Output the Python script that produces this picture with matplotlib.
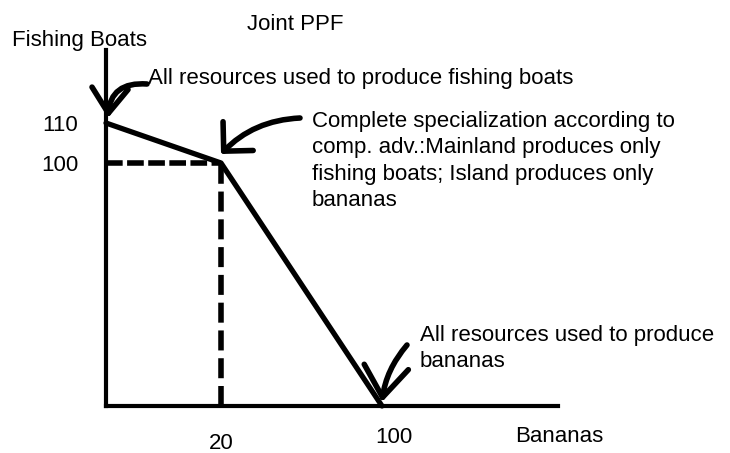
import numpy as np
import matplotlib
matplotlib.use('Agg')
import matplotlib.pyplot as plt
from matplotlib.transforms import offset_copy, ScaledTranslation

# ---- data (schematic joint PPF) ----
bananas = [0, 20, 100]
boats = [110, 100, 0]
corner_bananas = 20
corner_boats = 100
x_ticks = [20, 100]
x_tick_labels = ['20', '100']
y_ticks = [100, 110]
y_tick_labels = ['100', '110']

title = 'Joint PPF'
ylabel = 'Fishing Boats'
xlabel = 'Bananas'
note_top = 'All resources used to produce fishing boats'
note_mid = ('Complete specialization according to\n'
            'comp. adv.:Mainland produces only\n'
            'fishing boats; Island produces only\n'
            'bananas')
note_bottom = 'All resources used to produce\nbananas'

# ---- schematic (not-to-scale) axis mapping ----
X_BREAKS = [0, 20, 100, 187.5]
X_PIX = [0, 115, 276, 452]
Y_BREAKS = [0, 100, 110, 128.25]
Y_PIX = [0, 243, 283, 356]

plt.rcParams['font.family'] = ['Liberation Sans', 'DejaVu Sans']
FS = 16
LS = 1.33
W, H = 730, 453
fig = plt.figure(figsize=(W / 100, H / 100), dpi=100)


def fx(x):
    return x / W


def fy(y):
    return 1 - y / H


ax = fig.add_axes([fx(106), fy(406), 452 / W, 356 / H])
ax.set_xscale('function', functions=(lambda v: np.interp(v, X_BREAKS, X_PIX),
                                     lambda p: np.interp(p, X_PIX, X_BREAKS)))
ax.set_yscale('function', functions=(lambda v: np.interp(v, Y_BREAKS, Y_PIX),
                                     lambda p: np.interp(p, Y_PIX, Y_BREAKS)))
ax.set_xlim(X_BREAKS[0], X_BREAKS[-1])
ax.set_ylim(Y_BREAKS[0], Y_BREAKS[-1])

for s in ['top', 'right']:
    ax.spines[s].set_visible(False)
for s in ['left', 'bottom']:
    ax.spines[s].set_linewidth(3)
    ax.spines[s].set_color('black')

# PPF
ax.plot(bananas, boats, color='black', lw=3.8, solid_capstyle='round',
        solid_joinstyle='round', clip_on=False, zorder=3)
# dashed guides
ax.plot([0, corner_bananas], [corner_boats, corner_boats], color='black', lw=4,
        ls=(0, (3, 0.8)), dash_capstyle='butt', clip_on=False)
ax.plot([corner_bananas, corner_bananas], [0, corner_boats], color='black', lw=4,
        ls=(0, (3.6, 1.4)), dash_capstyle='butt', clip_on=False)

ax.set_xticks(x_ticks)
ax.set_xticklabels(x_tick_labels)
ax.set_yticks(y_ticks)
ax.set_yticklabels(y_tick_labels)
ax.xaxis.set_minor_locator(matplotlib.ticker.NullLocator())
ax.yaxis.set_minor_locator(matplotlib.ticker.NullLocator())
ax.tick_params(axis='x', length=0, pad=15, labelsize=FS)
ax.tick_params(axis='y', length=0, pad=20, labelsize=FS)

xl = ax.get_xticklabels()
xl[0].set_transform(xl[0].get_transform() + ScaledTranslation(0, -0.06, fig.dpi_scale_trans))
xl[1].set_transform(xl[1].get_transform() + ScaledTranslation(0.12, 0, fig.dpi_scale_trans))


def arrow(pt, tip_off, tail_off, rad, hl, hw):
    tip_tr = offset_copy(ax.transData, fig=fig, x=tip_off[0], y=tip_off[1], units='dots')
    ax.annotate('', xy=pt, xycoords=tip_tr, xytext=tail_off, textcoords='offset pixels',
                annotation_clip=False,
                arrowprops=dict(arrowstyle=f'->,head_length={hl},head_width={hw}',
                                connectionstyle=f'arc3,rad={rad}', lw=4, color='black',
                                shrinkA=0, shrinkB=0, capstyle='round', joinstyle='round',
                                mutation_scale=10))


arrow((bananas[0], boats[0]), (2, 5), (39, 34), 0.5, 1.8, 1.3)
arrow((bananas[1], boats[1]), (0, 9), (79, 36), 0.2, 1.5, 1.5)
arrow((bananas[2], boats[2]), (0, 4), (25, 57), 0.15, 2.2, 1.6)

# texts (multi-line texts are anchored at the baseline of their last line)
fig.text(fx(247), fy(30), title, fontsize=FS, va='baseline', ha='left')
fig.text(fx(12), fy(46), ylabel, fontsize=FS, va='baseline', ha='left')
fig.text(fx(515), fy(442), xlabel, fontsize=FS, va='baseline', ha='left')
fig.text(fx(148), fy(84), note_top, fontsize=FS, va='baseline', ha='left')
fig.text(fx(312), fy(206), note_mid, fontsize=FS, va='baseline', ha='left', linespacing=LS)
fig.text(fx(420), fy(367), note_bottom, fontsize=FS, va='baseline', ha='left', linespacing=LS)

fig.savefig('out.png', dpi=100)
